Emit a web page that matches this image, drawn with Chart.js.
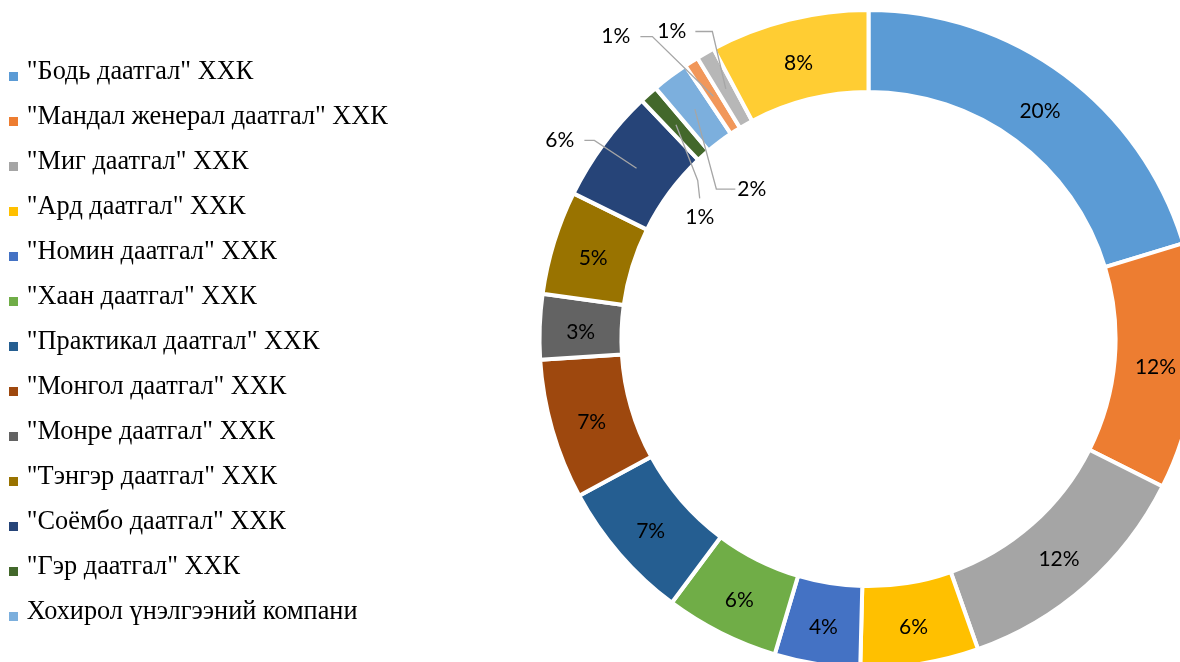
<!DOCTYPE html>
<html>
<head>
<meta charset="utf-8">
<script src="https://cdn.jsdelivr.net/npm/chart.js@4.4.1/dist/chart.umd.min.js"></script>
<style>
  html, body { margin: 0; padding: 0; background: #fff; overflow: hidden; }
  #wrap { width: 1180px; height: 662px; }
</style>
</head>
<body>
<div id="wrap"><canvas id="donut"></canvas></div>
<script>
// companies (the last three slices have no legend entry in the original)
var companies = [
  '"Бодь даатгал" ХХК',
  '"Мандал женерал даатгал" ХХК',
  '"Миг даатгал" ХХК',
  '"Ард даатгал" ХХК',
  '"Номин даатгал" ХХК',
  '"Хаан даатгал" ХХК',
  '"Практикал даатгал" ХХК',
  '"Монгол даатгал" ХХК',
  '"Монре даатгал" ХХК',
  '"Тэнгэр даатгал" ХХК',
  '"Соёмбо даатгал" ХХК',
  '"Гэр даатгал" ХХК',
  'Хохирол үнэлгээний компани',
  '', '', ''
];
// market share, %
var shares = [20.3, 12.1, 12.2, 5.8, 4.2, 5.6, 6.9, 6.9, 3.2, 5.1, 5.6, 0.9, 1.8, 0.7, 0.9, 7.8];
var colors = ['#5B9BD5', '#ED7D31', '#A5A5A5', '#FFC000', '#4472C4', '#70AD47', '#255E91', '#9E480E',
              '#636363', '#997300', '#264478', '#43682B', '#7CAFDD', '#F1975A', '#B7B7B7', '#FFCD33'];

// labels pulled out of their slice: angle shift from the slice middle (deg), distance from centre,
// which side of the text the leader line leaves from
var outsideLabels = [
  { i: 10, shift: -3.6,  r: 367, side: 'right', gap: 10, elbow: 10 },
  { i: 11, shift: -12.3, r: 208, side: 'top',   gap: 12, elbow: 18 },
  { i: 12, shift: -0.8,  r: 190, side: 'left',  gap: 2,  elbow: 19 },
  { i: 13, shift: -7.3,  r: 394, side: 'right', gap: 10, elbow: 12 },
  { i: 14, shift: -2.9,  r: 365, side: 'right', gap: 9,  elbow: 17 }
];

var LEGEND_W = 563;

function swatch(color) {
  // small square sitting a bit below the text middle, like the Excel legend
  var c = document.createElement('canvas');
  c.width = 9; c.height = 20;
  var g = c.getContext('2d');
  g.fillStyle = color;
  g.fillRect(0, 10, 9, 9);
  return c;
}

var fixLegendWidth = {
  id: 'fixLegendWidth',
  beforeInit: function (chart) {
    var fit = chart.legend.fit;
    chart.legend.fit = function () {
      fit.call(this);
      this.width = LEGEND_W;
    };
  }
};

var pctLabels = {
  id: 'pctLabels',
  afterDatasetsDraw: function (chart) {
    var ctx = chart.ctx;
    var meta = chart.getDatasetMeta(0);
    var total = shares.reduce(function (a, b) { return a + b; }, 0);
    ctx.save();
    ctx.font = '21px Lato, sans-serif';
    ctx.fillStyle = '#000';
    ctx.textAlign = 'center';
    ctx.textBaseline = 'middle';
    meta.data.forEach(function (arc, i) {
      var txt = Math.round(shares[i] / total * 100) + '%';
      var p = arc.tooltipPosition();
      var out = outsideLabels.find(function (o) { return o.i === i; });
      if (!out) {
        // excel puts the digits a little under the slice centre
        ctx.fillText(txt, p.x, p.y + 4);
        return;
      }
      var mid = (arc.startAngle + arc.endAngle) / 2 + out.shift * Math.PI / 180;
      var lx = arc.x + Math.cos(mid) * out.r;
      var ly = arc.y + Math.sin(mid) * out.r;
      var w = ctx.measureText(txt).width, h = 14;
      var sx, sy, ex, ey;
      if (out.side === 'right') {
        sx = lx + w / 2 + out.gap; sy = ly; ex = sx + out.elbow; ey = sy;
      } else if (out.side === 'left') {
        sx = lx - w / 2 - out.gap; sy = ly; ex = sx - out.elbow; ey = sy;
      } else {
        sx = lx; sy = ly - h / 2 - out.gap; ex = sx - 2; ey = sy - out.elbow;
      }
      ctx.strokeStyle = '#A6A6A6';
      ctx.lineWidth = 1.3;
      ctx.beginPath();
      ctx.moveTo(sx, sy);
      ctx.lineTo(ex, ey);
      ctx.lineTo(p.x, p.y);
      ctx.stroke();
      ctx.fillText(txt, lx, ly);
    });
    ctx.restore();
  }
};

var ctx = document.getElementById('donut').getContext('2d');
var chart = new Chart(ctx, {
  type: 'doughnut',
  data: {
    labels: companies,
    datasets: [{
      data: shares,
      backgroundColor: colors,
      borderColor: '#fff',
      borderWidth: 4,
      clip: false
    }]
  },
  options: {
    responsive: true,
    maintainAspectRatio: false,
    animation: false,
    events: [],
    radius: 329,
    cutout: '75.1%',
    layout: { padding: { left: -6, top: 16, right: 0, bottom: 0 } },
    plugins: {
      tooltip: { enabled: false },
      legend: {
        position: 'left',
        align: 'center',
        // empty title only nudges the legend column a few px down
        title: { display: true, text: ' ', font: { size: 5 }, padding: 0 },
        labels: {
          color: '#000',
          font: { family: '"Liberation Serif", "Times New Roman", serif', size: 26.3 },
          padding: 18.7,
          usePointStyle: true,
          pointStyleWidth: 1,
          generateLabels: function (chart) {
            return Chart.controllers.doughnut.overrides.plugins.legend.labels.generateLabels(chart)
              .filter(function (item) { return item.text !== ''; })
              .map(function (item) {
                item.pointStyle = swatch(colors[item.index]);
                item.lineWidth = 0;
                return item;
              });
          }
        }
      }
    }
  },
  plugins: [fixLegendWidth, pctLabels]
});
</script>
</body>
</html>
